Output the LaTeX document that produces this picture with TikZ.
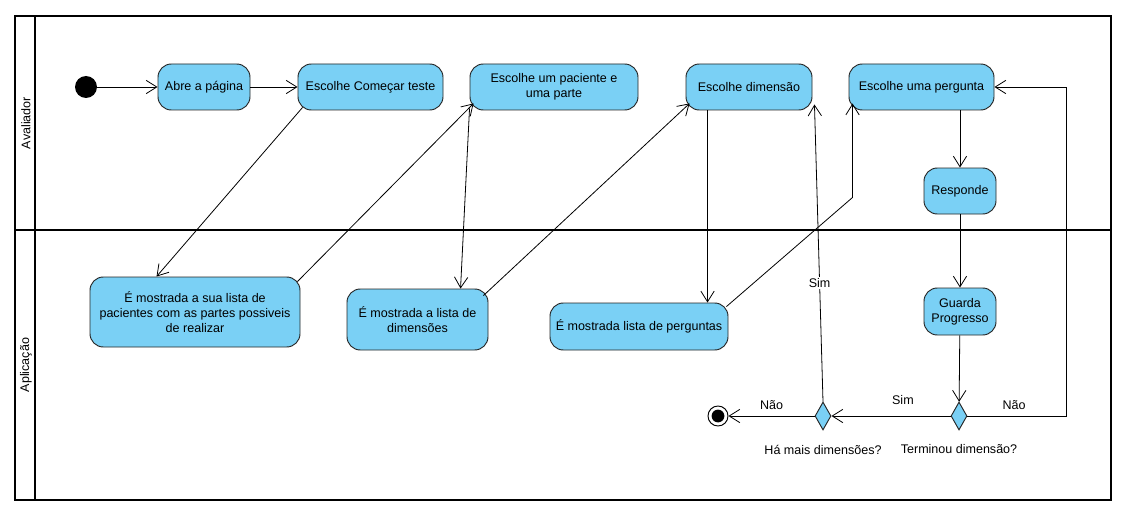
\documentclass[tikz,border=0pt]{standalone}
\usepackage{fontspec}
\setmainfont{Liberation Sans}
\usetikzlibrary{arrows.meta,shapes.geometric,calc}
\definecolor{actfill}{RGB}{122,208,245}
\begin{document}
\begin{tikzpicture}[x=0.75pt,y=-0.75pt,
  act/.style={draw=black!85, fill=actfill, rounded corners=10pt, align=center, inner sep=0pt, font=\fontsize{9.4}{11}\selectfont, line width=0.7pt},
  flow/.style={-{Straight Barb[length=8pt,width=10pt]}, line width=0.6pt},
  lane/.style={line width=1.5pt},
  lbl/.style={font=\fontsize{9.4}{11}\selectfont},
  dec/.style={diamond, draw=black!85, fill=actfill, inner sep=0pt, minimum width=12pt, minimum height=21pt, line width=0.7pt}]
\useasboundingbox (0,0) rectangle (1129,517);
\fill[white] (0,0) rectangle (1129,517);
% swimlanes
\draw[lane] (15,16) rectangle (1111,500);
\draw[lane] (35,16) -- (35,500);
\draw[line width=2pt] (15,230) -- (1111,230);
\node[rotate=90, lbl] (la) at (26,123) {Avaliador};
\node[rotate=90, lbl] (lb) at (26,365) {Aplicação};
% nodes
\node[circle, fill=black, minimum size=16.5pt, inner sep=0pt] (start) at (86,87) {};
\node[act, minimum width=69pt, minimum height=34.5pt] (abre) at (204,87) {Abre a página};
\node[act, minimum width=108.75pt, minimum height=34.5pt] (com) at (370.5,87) {Escolhe Começar teste};
\node[act, minimum width=126pt, minimum height=34.5pt] (pac) at (554,87) {Escolhe um paciente e\\uma parte};
\node[act, minimum width=94.5pt, minimum height=34.5pt] (dim) at (749,87) {Escolhe dimensão};
\node[act, minimum width=108.75pt, minimum height=34.5pt] (per) at (921.5,87) {Escolhe uma pergunta};
\node[act, minimum width=54pt, minimum height=34.5pt] (res) at (960,191) {Responde};
\node[act, minimum width=157.5pt, minimum height=52.5pt] (lp) at (195,312) {É mostrada a sua lista de\\pacientes com as partes possiveis\\de realizar};
\node[act, minimum width=105.75pt, minimum height=45.75pt] (ld) at (417.5,319.5) {É mostrada a lista de\\dimensões};
\node[act, minimum width=133.5pt, minimum height=35.25pt] (lq) at (639,326.5) {É mostrada lista de perguntas};
\node[act, minimum width=54pt, minimum height=35.25pt] (gp) at (960,311.5) {Guarda\\Progresso};
\node[dec] (t) at (959,416) {};
\node[dec] (h) at (823,416) {};
\node[circle, draw, fill=white, minimum size=15pt, inner sep=0pt, line width=0.7pt] (end) at (718,416) {};
\fill (end.center) circle (4.8pt);
\node[lbl] (hl) at ($(h.south)+(0,19)$) {Há mais dimensões?};
\node[lbl] (tl) at ($(t.south)+(0,19)$) {Terminou dimensão?};
% connectors
\draw[flow] (start) -- (abre);
\draw[flow] (abre) -- (com);
\draw[flow] ($(com.south west)+(5,-3)$) -- ($(lp.north west)+(67,0)$);
\draw[flow] ($(lp.north east)+(-3,5)$) -- ($(pac.south west)+(4,-7)$);
\draw[flow] ($(pac.south west)+(0,-2)$) -- ($(ld.north west)+(114,0)$);
\draw[flow] ($(ld.north east)+(-5,7)$) -- ($(dim.south west)+(4,-7)$);
\draw[flow] ($(dim.south west)+(22,0)$) -- ($(lq.north west)+(158,0)$);
\draw[flow] ($(lq.north east)+(-2,4)$) -- ($(per.south west)+(4,87)$) -- ($(per.south west)+(4,-7)$);
\draw[flow] (res.north |- per.south) -- (res.north);
\draw[flow] (res) -- (gp);
\draw[flow] (gp) -- (t);
\draw[flow] (t.east) -- ++(99,0) node[lbl, above=1pt, pos=0.47] {Não} |- (per.east);
\draw[flow] (t.west) -- node[lbl, above=5pt, pos=0.4] {Sim} (h.east);
\draw[flow] (h.north) -- node[lbl, pos=0.4, fill=white, inner sep=1pt] {Sim} ($(dim.south east)+(2,-6)$);
\draw[flow] (h.west) -- node[lbl, above=1pt, pos=0.5] {Não} (end);
\end{tikzpicture}
\end{document}
